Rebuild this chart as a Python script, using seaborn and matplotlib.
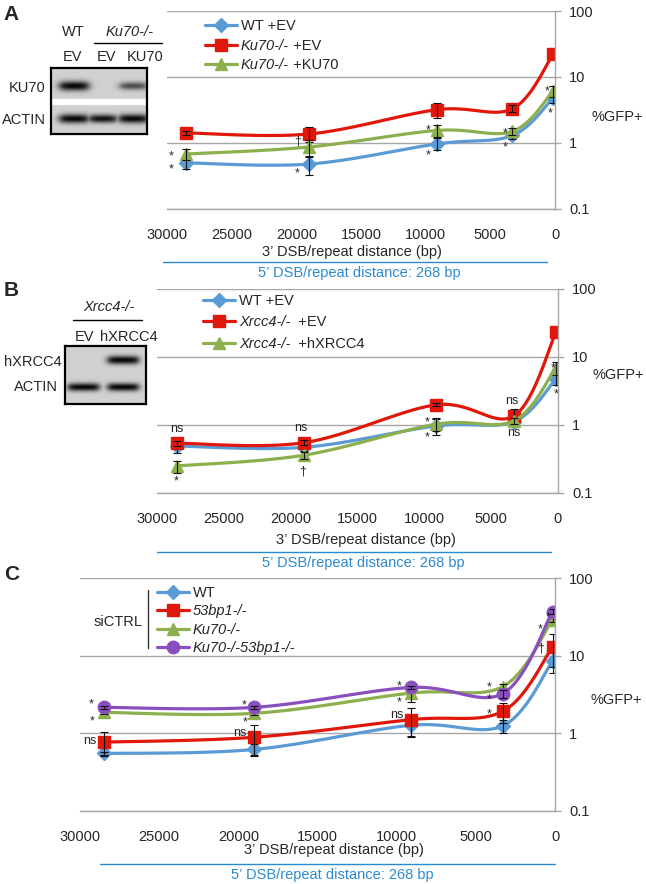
import numpy as np
import matplotlib
matplotlib.use("Agg")
import matplotlib.pyplot as plt
import seaborn as sns
from matplotlib.lines import Line2D

sns.set_style("white")
plt.rcParams['font.family'] = ['Liberation Sans', 'DejaVu Sans']
plt.rcParams['font.size'] = 10.5

W, H = 646, 884

# 3' DSB/repeat distance (bp), same for all three panels
dist = [28500, 19000, 9100, 3300, 150]
xticks = [30000, 25000, 20000, 15000, 10000, 5000, 0]
yticks = [0.1, 1, 10, 100]
ytick_labels = ["0.1", "1", "10", "100"]

# panel A : %GFP+
a_labels = ["WT +EV", "Ku70-/-", "Ku70-/-"]
a_extra = ["", " +EV", " +KU70"]
a_wt = [0.50, 0.48, 0.97, 1.30, 4.8]
a_ku70 = [1.42, 1.37, 3.2, 3.3, 22.0]
a_ku70_ku70 = [0.68, 0.87, 1.55, 1.50, 6.1]
a_wt_err = [0.10, 0.15, 0.20, 0.15, 0.8]
a_ku70_err = [0.12, 0.35, 0.80, 0.40, 0.0]
a_ku70_ku70_err = [0.12, 0.25, 0.30, 0.20, 1.2]

# panel B
b_labels = ["WT +EV", "Xrcc4-/-", "Xrcc4-/-"]
b_extra = ["", "  +EV", "  +hXRCC4"]
b_wt = [0.49, 0.47, 0.97, 1.12, 4.8]
b_xrcc4 = [0.54, 0.55, 1.98, 1.36, 23.0]
b_xrcc4_h = [0.25, 0.36, 1.03, 1.15, 7.0]
b_wt_err = [0.10, 0.05, 0.25, 0.10, 0.9]
b_xrcc4_err = [0.05, 0.05, 0.10, 0.35, 0.0]
b_xrcc4_h_err = [0.05, 0.04, 0.22, 0.10, 1.5]

# panel C
c_labels = ["WT", "53bp1-/-", "Ku70-/-", "Ku70-/-53bp1-/-"]
c_wt = [0.55, 0.62, 1.27, 1.25, 8.5]
c_53bp1 = [0.77, 0.89, 1.50, 1.92, 13.0]
c_ku70 = [1.86, 1.81, 3.3, 4.0, 29.0]
c_double = [2.16, 2.16, 3.9, 3.25, 37.0]
c_wt_err = [0.03, 0.10, 0.35, 0.25, 2.6]
c_53bp1_err = [0.26, 0.38, 0.60, 0.55, 5.8]
c_ku70_err = [0.10, 0.10, 0.80, 0.30, 2.0]
c_double_err = [0.10, 0.10, 0.20, 0.40, 3.0]

# significance marks: (series, point, text, dx px, dy px)
a_marks = [(2, 0, '*', -15, 2), (0, 0, '*', -15, -3), (2, 1, '†', -12, 5), (0, 1, '*', -12, -5),
           (2, 2, '*', -9, 4), (0, 2, '*', -9, -8), (2, 3, '*', -7, 2), (0, 3, '*', -7, -8),
           (2, 4, '*', -6, 4), (0, 4, '*', -3, -11)]
b_marks = [(1, 0, 'ns', 0, 14), (2, 0, '*', -1, -11), (1, 1, 'ns', -3, 15), (2, 1, '†', -1, -16),
           (2, 2, '*', -9, 6), (0, 2, '*', -9, -8), (1, 3, 'ns', -2, 15), (2, 3, 'ns', 0, -12),
           (2, 4, '*', -3, 3), (0, 4, '*', 0, -12)]
c_marks = [(3, 0, '*', -13, 7), (2, 0, '*', -12, -5), (1, 0, 'ns', -14, 1),
           (3, 1, '*', -10, 6), (2, 1, '*', -9, -5), (1, 1, 'ns', -14, 4),
           (3, 2, '*', -12, 5), (2, 2, '*', -12, -5), (1, 2, 'ns', -14, 5),
           (2, 3, '*', -14, 3), (3, 3, '*', -14, -2), (1, 3, '*', -14, 1),
           (3, 4, '*', -4, -2), (2, 4, '*', -12, -6), (1, 4, '†', -12, -2)]

# western blot band intensities per lane
a_blot_ku70 = [1.0, 0.0, 0.55]
a_blot_actin = [1.0, 0.8, 1.0]
b_blot_xrcc4 = [0.0, 1.0]
b_blot_actin = [1.0, 1.0]

colors = ['#5b9bd5', '#e0180c', '#8db04e', '#8a4fbf']
markers = ['D', 's', '^', 'o']
msizes = [7, 8.5, 9, 9]
BLUE = '#2a8ad0'


def smooth(x, y, n=30):
    # Excel-like smoothed line (Catmull-Rom in x / log y space)
    x = np.asarray(x, float)
    ly = np.log10(np.asarray(y, float))
    px = np.concatenate([[x[0]], x, [x[-1]]])
    py = np.concatenate([[ly[0]], ly, [ly[-1]]])
    t = np.linspace(0, 1, n, endpoint=False)
    xs, ys = [], []
    for i in range(1, len(px) - 2):
        for p, out in ((px, xs), (py, ys)):
            p0, p1, p2, p3 = p[i - 1], p[i], p[i + 1], p[i + 2]
            out.append(0.5 * (2 * p1 + (-p0 + p2) * t + (2 * p0 - 5 * p1 + 4 * p2 - p3) * t ** 2
                              + (-p0 + 3 * p1 - 3 * p2 + p3) * t ** 3))
    xs = np.concatenate(xs + [[x[-1]]])
    ys = np.concatenate(ys + [[ly[-1]]])
    return xs, 10 ** ys


def ax_rect(l, t, r, b):
    return [l / W, 1 - b / H, (r - l) / W, (b - t) / H]


def ftext(x, y, s, **kw):
    kw.setdefault('ha', 'center')
    kw.setdefault('va', 'center')
    kw.setdefault('fontsize', 10.5)
    fig.text(x / W, 1 - y / H, s, **kw)


def draw_panel(ax, series, errs, n):
    for k in range(n):
        xs, ys = smooth(dist, series[k])
        sns.lineplot(x=xs, y=ys, ax=ax, color=colors[k], lw=2.3, sort=False,
                     estimator=None, zorder=2 + k * 0.1)
        ax.plot(dist, series[k], ls='none', marker=markers[k], ms=msizes[k], color=colors[k],
                mec=colors[k], zorder=2.05 + k * 0.1)
        e = np.asarray(errs[k])
        keep = e > 0
        ax.errorbar(np.asarray(dist)[keep], np.asarray(series[k])[keep], yerr=e[keep], fmt='none',
                    ecolor='#111111', elinewidth=0.8, capsize=3, capthick=0.8, zorder=2.07 + k * 0.1)
    ax.set_yscale('log')
    ax.set_ylim(0.1, 100)
    ax.set_xlim(30000, 0)
    ax.set_xticks(xticks)
    ax.set_xticklabels([str(v) for v in xticks])
    ax.set_yticks(yticks)
    ax.set_yticklabels(ytick_labels)
    ax.minorticks_off()
    ax.yaxis.tick_right()
    ax.grid(axis='y', color='#a6a6a6', lw=1)
    ax.set_axisbelow(True)
    for s in ['left', 'top']:
        ax.spines[s].set_visible(False)
    for s in ['right', 'bottom']:
        ax.spines[s].set_color('#a6a6a6')
        ax.spines[s].set_linewidth(1)
    ax.tick_params(axis='x', length=4, width=1, color='#a6a6a6', pad=10, labelsize=10.5)
    ax.tick_params(axis='y', length=4, width=1, color='#a6a6a6', pad=6, labelsize=10.5,
                   right=True, left=False)
    ax.set_xlabel('')
    ax.set_ylabel('')


def add_marks(ax, series, marks):
    for s, i, txt, dx, dy in marks:
        if txt == '*':
            dy -= 4
        ax.annotate(txt, xy=(dist[i], series[s][i]), xytext=(dx * 0.72, dy * 0.72),
                    textcoords='offset points', ha='center', va='center', fontsize=9, zorder=10)


def add_legend(ax, labels, extras, italics, x, y, spacing):
    handles = [Line2D([], [], color=colors[k], lw=2.3, marker=markers[k], ms=msizes[k])
               for k in range(len(labels))]
    leg = ax.legend(handles, labels, loc='upper left', bbox_to_anchor=(x, y), frameon=False,
                    handlelength=2.2, handletextpad=0.25, labelspacing=spacing, borderpad=0,
                    borderaxespad=0, fontsize=10.5)
    for t, it, ex in zip(leg.get_texts(), italics, extras):
        if it:
            t.set_fontstyle('italic')
        if ex:
            ax.annotate(ex, xy=(1, 0), xycoords=t, ha='left', va='bottom', fontsize=10.5, zorder=6)


def below_axis(ax, xl, yl, l0, l1, ly, xt, yt):
    ax.text(xl, yl, '3\u2019 DSB/repeat distance (bp)', transform=ax.transAxes,
            ha='center', va='center', fontsize=10.5)
    ax.plot([l0, l1], [ly, ly], transform=ax.transAxes, color=BLUE, lw=1, clip_on=False)
    ax.text(xt, yt, '5\u2019 DSB/repeat distance: 268 bp', transform=ax.transAxes,
            ha='center', va='center', fontsize=10.5, color=BLUE)


def blot(ax, lanes, hw, rows, strip=None):
    h, w = 130, 200
    yy, xx = np.mgrid[0:h, 0:w]
    yy = yy / (h - 1)
    xx = xx / (w - 1)
    img = np.full((h, w), 0.82)
    dark = np.zeros((h, w))
    for yc, sig, vals in rows:
        for xc, v in zip(lanes, vals):
            s = sig * (0.6 + 0.4 * v)
            gy = np.exp(-((yy - yc) / s) ** 2 * 1.5)
            gx = 1 / (1 + np.exp((np.abs(xx - xc) - hw * (0.8 + 0.2 * v)) / 0.025))
            dark = np.maximum(dark, min(1, v * 1.2) * gy * gx)
    img = img * (1 - 0.97 * np.clip(dark, 0, 1))
    if strip is not None:
        img[(yy > strip[0]) & (yy < strip[1])] = 1.0
    ax.imshow(img, cmap='gray', vmin=0, vmax=1, extent=(0, 1, 0, 1), aspect='auto',
              interpolation='bilinear')
    ax.set_xticks([])
    ax.set_yticks([])
    for s in ax.spines.values():
        s.set_visible(True)
        s.set_color('black')
        s.set_linewidth(1.6)


fig = plt.figure(figsize=(W / 100, H / 100), dpi=100)

# ---------------- panel A ----------------
axA = fig.add_axes(ax_rect(167, 11, 555, 209))
sa = [a_wt, a_ku70, a_ku70_ku70]
draw_panel(axA, sa, [a_wt_err, a_ku70_err, a_ku70_ku70_err], 3)
add_marks(axA, sa, a_marks)
add_legend(axA, a_labels, a_extra, [False, True, True], 0.098, 0.958, 0.37)
axA.text(1.095, 0.465, '%GFP+', transform=axA.transAxes, ha='left', va='center', fontsize=10.5)
below_axis(axA, 0.476, -0.217, -0.01, 0.98, -0.268, 0.495, -0.322)

bA = fig.add_axes(ax_rect(51, 68, 147, 134))
blot(bA, [0.24, 0.54, 0.86], 0.15,
     [(0.27, 0.09, a_blot_ku70), (0.77, 0.085, a_blot_actin)], strip=(0.47, 0.56))
ftext(11, 15, 'A', fontsize=15, fontweight='bold')
ftext(73, 32, 'WT')
ftext(130, 32, 'Ku70-/-', style='italic')
fig.add_artist(Line2D([94 / W, 162 / W], [1 - 43 / H, 1 - 43 / H], color='black', lw=1))
ftext(73, 57, 'EV')
ftext(107, 57, 'EV')
ftext(145, 57, 'KU70')
ftext(45, 88, 'KU70', ha='right')
ftext(46, 120, 'ACTIN', ha='right')

# ---------------- panel B ----------------
axB = fig.add_axes(ax_rect(157, 289, 558, 493))
sb = [b_wt, b_xrcc4, b_xrcc4_h]
draw_panel(axB, sb, [b_wt_err, b_xrcc4_err, b_xrcc4_h_err], 3)
add_marks(axB, sb, b_marks)
add_legend(axB, b_labels, b_extra, [False, True, True], 0.115, 0.975, 0.5)
axB.text(1.085, 0.58, '%GFP+', transform=axB.transAxes, ha='left', va='center', fontsize=10.5)
below_axis(axB, 0.521, -0.230, 0.0, 0.983, -0.289, 0.514, -0.343)

bB = fig.add_axes(ax_rect(65, 346, 146, 404))
blot(bB, [0.23, 0.72], 0.19, [(0.24, 0.09, b_blot_xrcc4), (0.71, 0.085, b_blot_actin)])
ftext(11, 290, 'B', fontsize=15, fontweight='bold')
ftext(109, 307, 'Xrcc4-/-', style='italic')
fig.add_artist(Line2D([73 / W, 142 / W], [1 - 320 / H, 1 - 320 / H], color='black', lw=1))
ftext(84, 337, 'EV')
ftext(129, 337, 'hXRCC4')
ftext(62, 362, 'hXRCC4', ha='right')
ftext(58, 387, 'ACTIN', ha='right')

# ---------------- panel C ----------------
axC = fig.add_axes(ax_rect(80, 578, 555, 811))
sc = [c_wt, c_53bp1, c_ku70, c_double]
draw_panel(axC, sc, [c_wt_err, c_53bp1_err, c_ku70_err, c_double_err], 4)
add_marks(axC, sc, c_marks)
add_legend(axC, c_labels, ["", "", "", ""], [False, True, True, True], 0.162, 0.966, 0.3)
axC.text(0.08, 0.811, 'siCTRL', transform=axC.transAxes, ha='center', va='center', fontsize=10.5)
axC.plot([0.143, 0.143], [0.70, 0.948], transform=axC.transAxes, color='#333333', lw=1,
         clip_on=False)
axC.text(1.074, 0.476, '%GFP+', transform=axC.transAxes, ha='left', va='center', fontsize=10.5)
below_axis(axC, 0.534, -0.167, 0.042, 1.0, -0.227, 0.531, -0.275)
ftext(12, 575, 'C', fontsize=15, fontweight='bold')

fig.savefig('out.png', dpi=100)
